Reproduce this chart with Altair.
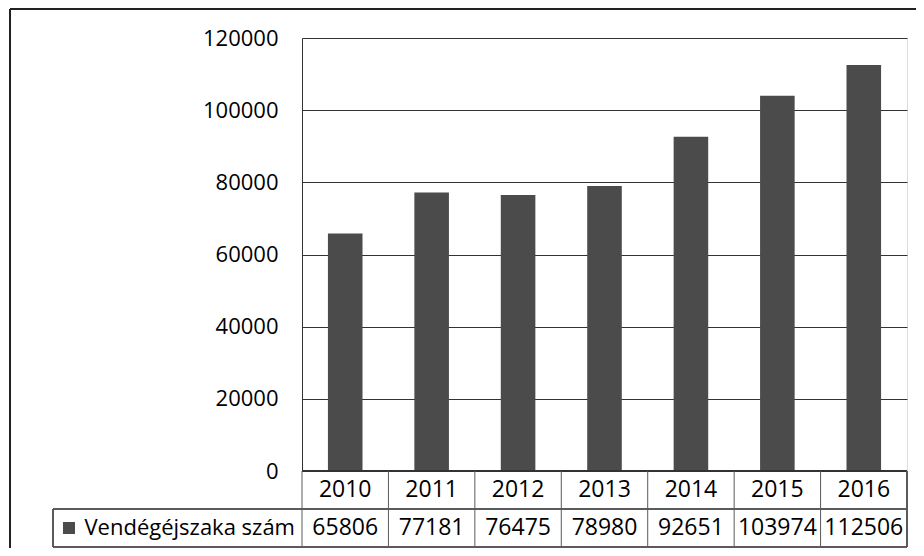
import altair as alt
import pandas as pd

years = ["2010", "2011", "2012", "2013", "2014", "2015", "2016"]
values = [65806, 77181, 76475, 78980, 92651, 103974, 112506]
series_name = "Vendégéjszaka szám"
y_ticks = [0, 20000, 40000, 60000, 80000, 100000, 120000]

df = pd.DataFrame({"year": years, "value": values})
df["label"] = df["value"].astype(str)

W, H = 605, 433
R1, R2 = 38, 76  # table row boundaries below the plot
FONT = "Open Sans"
BAR = "#4b4b4b"
LINE = "#5a5a5a"

xscale = alt.Scale(domain=years, paddingInner=0, paddingOuter=0)
yscale = alt.Scale(domain=[0, 120000], nice=False)

base = alt.Chart(df)

bars = base.mark_bar(color=BAR, width=alt.RelativeBandSize(0.4)).encode(
    x=alt.X("year:N", scale=xscale, axis=None),
    y=alt.Y(
        "value:Q",
        scale=yscale,
        axis=alt.Axis(
            values=y_ticks,
            title=None,
            grid=True,
            gridColor="#333333",
            gridWidth=1,
            gridOpacity=1,
            ticks=False,
            domain=True,
            domainColor="#333333",
            labelFont=FONT,
            labelFontSize=22,
            labelColor="#000000",
            labelPadding=24,
            format="d",
        ),
    ),
)

# outer frame of the whole chart (only top and left edges are in view)
frame_top = base.mark_rule(color="#222222", strokeWidth=2).encode(
    x=alt.value(-292), x2=alt.value(W + 9), y=alt.value(-29),
)
frame_left = base.mark_rule(color="#222222", strokeWidth=2).encode(
    x=alt.value(-292), y=alt.value(-29), y2=alt.value(H + R2 + 2),
)

# table: vertical cell boundaries
vlines = base.mark_rule(color=LINE, strokeWidth=1).encode(
    x=alt.X("year:N", scale=xscale, bandPosition=0),
    y=alt.value(H), y2=alt.value(H + R2),
)
right_line = base.mark_rule(color=LINE, strokeWidth=1).encode(
    x=alt.value(W), y=alt.value(H), y2=alt.value(H + R2),
)
# horizontal lines
hline0 = base.mark_rule(color="#333333", strokeWidth=1).encode(
    x=alt.value(0), x2=alt.value(W), y=alt.value(H),
)
hline1 = base.mark_rule(color=LINE, strokeWidth=1).encode(
    x=alt.value(-249), x2=alt.value(W), y=alt.value(H + R1),
)
hline2 = base.mark_rule(color=LINE, strokeWidth=1).encode(
    x=alt.value(-249), x2=alt.value(W), y=alt.value(H + R2),
)
label_left = base.mark_rule(color=LINE, strokeWidth=1).encode(
    x=alt.value(-249), y=alt.value(H + R1), y2=alt.value(H + R2),
)

year_text = base.mark_text(font=FONT, fontSize=23, color="#000000", baseline="middle").encode(
    x=alt.X("year:N", scale=xscale),
    y=alt.value(H + R1 / 2),
    text="year:N",
)
value_text = base.mark_text(font=FONT, fontSize=23, color="#000000", baseline="middle").encode(
    x=alt.X("year:N", scale=xscale),
    y=alt.value(H + (R1 + R2) / 2),
    text="label:N",
)

legend_df = pd.DataFrame({"name": [series_name]})
lbase = alt.Chart(legend_df)
legend_sq = lbase.mark_square(size=144, color=BAR, opacity=1).encode(
    x=alt.value(-233), y=alt.value(H + (R1 + R2) / 2),
)
legend_txt = lbase.mark_text(font=FONT, fontSize=22, color="#000000", align="right", baseline="middle").encode(
    x=alt.value(-7), y=alt.value(H + (R1 + R2) / 2), text="name:N",
)

chart = alt.layer(
    frame_top, frame_left, bars, hline0, hline1, hline2, vlines, right_line, label_left,
    year_text, value_text, legend_sq, legend_txt,
).properties(
    width=W, height=H,
    autosize=alt.AutoSizeParams(type="none"),
    padding={"left": 294, "top": 30, "right": 9, "bottom": 77},
).configure_view(stroke=None).configure(background="white")

chart.save("out.html", embed_options={"renderer": "svg", "actions": False})
